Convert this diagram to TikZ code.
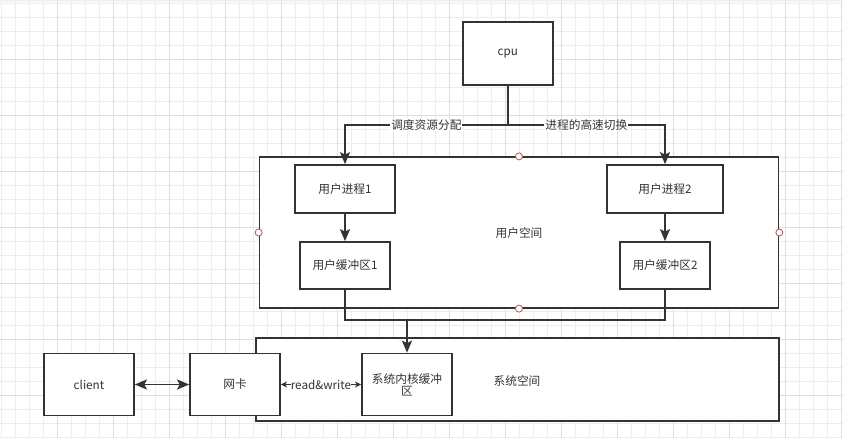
\documentclass[tikz,border=0pt]{standalone}
\usepackage{fontspec}
\setmainfont{Noto Sans CJK SC}
\usetikzlibrary{positioning, arrows.meta}

\definecolor{ink}{HTML}{333333}
\definecolor{gridminor}{HTML}{EDEDED}
\definecolor{gridmajor}{HTML}{DEDEDE}
\definecolor{handle}{HTML}{B85450}

\begin{document}
\begin{tikzpicture}[
    x=1pt, y=-1pt,
    >=Stealth,
    % Styles for nodes
    block/.style={draw=ink, fill=white, rectangle, line width=1.7pt, align=center, text=ink, font=\fontsize{11.7}{14}\selectfont},
    area/.style={draw=ink, fill=white, rectangle, line width=1.7pt, inner sep=0pt},
    areatext/.style={text=ink, font=\fontsize{11.7}{14}\selectfont},
    lbl/.style={fill=white, inner sep=1pt, text=ink, font=\fontsize{11.7}{14}\selectfont},
    handledot/.style={draw=handle, fill=white, circle, line width=0.8pt, minimum size=7pt, inner sep=0pt},
    % Styles for connectors
    wire/.style={draw=ink, line width=1.7pt},
    flow/.style={wire, -{Stealth[length=12pt, width=10pt, inset=2.5pt]}},
    both/.style={wire, {Stealth[length=12pt, width=10pt, inset=2.5pt]}-{Stealth[length=12pt, width=10pt, inset=2.5pt]}},
    thinboth/.style={wire, {Stealth[length=6pt, width=6pt, inset=1.5pt]}-{Stealth[length=6pt, width=6pt, inset=1.5pt]}}
]

    \useasboundingbox (0,0) rectangle (843,438);

    % Background grid
    \fill[gray!12] (0,0) rectangle (843,2.5);
    \foreach \gx in {0,...,60} {
        \draw[gridminor, line width=0.8pt] (1.5+14*\gx,2.5) -- (1.5+14*\gx,438);
    }
    \foreach \gy in {0,...,31} {
        \draw[gridminor, line width=0.8pt] (0,3.3+14*\gy) -- (843,3.3+14*\gy);
    }
    \foreach \gx in {0,...,14} {
        \draw[gridmajor, line width=0.8pt] (57.5+56*\gx,2.5) -- (57.5+56*\gx,438);
    }
    \foreach \gy in {0,...,7} {
        \draw[gridmajor, line width=0.8pt] (0,59.3+56*\gy) -- (843,59.3+56*\gy);
    }

    % Spaces
    \node (userspace) [area, minimum width=519pt, minimum height=150.5pt] at (519,232.5) {};
    \node (userlabel) [areatext] at (519,233) {用户空间};
    \node (sysspace) [area, minimum width=523pt, minimum height=83pt] at (517.5,379.5) {};
    \node (syslabel) [areatext] at (517,381) {系统空间};

    % Boxes
    \node (cpu) [block, minimum width=90pt, minimum height=63pt] at (507.7,53.5) {cpu};
    \node (proc1) [block, minimum width=100pt, minimum height=48pt] at (345,189) {用户进程1};
    \node (proc2) [block, minimum width=116pt, minimum height=48pt] at (665,189) {用户进程2};
    \node (buf1) [block, minimum width=90pt, minimum height=47pt] at (345,265.5) {用户缓冲区1};
    \node (buf2) [block, minimum width=90pt, minimum height=47pt] at (665,265.5) {用户缓冲区2};
    \node (client) [block, minimum width=90pt, minimum height=62pt] at (89,384.5) {client};
    \node (nic) [block, minimum width=90pt, minimum height=62pt] at (235,384.5) {网卡};
    \node (kbuf) [block, minimum width=90pt, minimum height=62pt, text width=76pt, inner sep=2pt] at (407,384.5) {系统内核缓冲\\[-2pt]区};

    % Connection handles
    \foreach \side in {north, south, west, east} {
        \node [handledot] at (userspace.\side) {};
    }

    % Arrows
    \coordinate (fork) at (507.7,125);
    \coordinate (join) at (407,320);
    \draw [wire] (cpu.south) -- (fork);
    \draw [flow] (fork) -| (proc1.north) node[pos=0.25, lbl] {调度资源分配};
    \draw [flow] (fork) -| (proc2.north) node[pos=0.25, lbl] {进程的高速切换};
    \draw [flow] (proc1) -- (buf1);
    \draw [flow] (proc2) -- (buf2);
    \draw [wire] (buf1.south) |- (join) -| (buf2.south);
    \draw [flow] (join) -- (kbuf.north);
    \draw [both] (client) -- (nic);
    \draw [thinboth] (nic) -- (kbuf) node[midway, lbl, inner sep=0pt] {read\&write};

\end{tikzpicture}
\end{document}
